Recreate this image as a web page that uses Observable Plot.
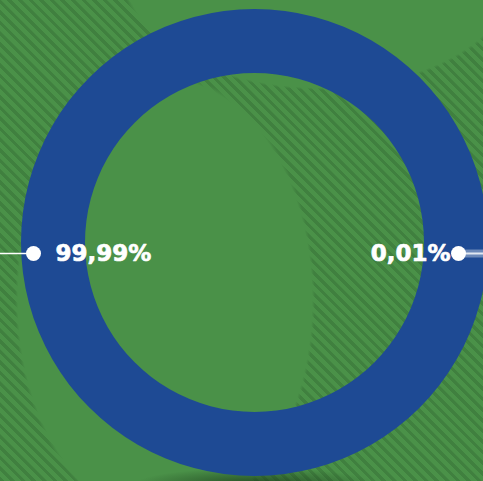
<!DOCTYPE html>
<html>
<head>
<meta charset="utf-8">
<script src="https://cdn.jsdelivr.net/npm/d3@7"></script>
<script src="https://cdn.jsdelivr.net/npm/@observablehq/plot@0.6"></script>
<style>
html, body { margin: 0; padding: 0; background: #4a9148; }
#chart { width: 483px; height: 481px; overflow: hidden; }
</style>
</head>
<body>
<div id="chart"></div>
<script>
// ---- data ----
const labels = ["99,99%", "0,01%"];
const values = [99.99, 0.01];
const colors = ["#1e4a94", "#7f9fd0"];

// ---- layout (pixel-like data units, centre of the ring at 0,0) ----
const W = 483, H = 481;
const cx = 254.5, cy = 242.5;
const rOuter = 233.5, rInner = 169.5;
const dotR = [221.5, 203.5];   // where each label's dot sits
const labelDy = -10.5;        // labels sit a little below the centre

// pie: the small slice is centred at 3 o'clock, the big one's middle at 9 o'clock
const total = d3.sum(values);
const smallAngle = values[1] / total * 2 * Math.PI;
const pie = d3.pie().sort(null)
  .startAngle(Math.PI / 2 + smallAngle / 2)
  .endAngle(Math.PI / 2 + smallAngle / 2 + 2 * Math.PI)(values);

const rows = labels.map((label, i) => {
  const a = (pie[i].startAngle + pie[i].endAngle) / 2;
  return {
    label, value: values[i], color: colors[i],
    side: Math.sin(a) < 0 ? "left" : "right",
    dx: dotR[i] * Math.sin(a),
    dy: dotR[i] * Math.cos(a) + labelDy
  };
});
const left = rows.filter(d => d.side === "left");
const right = rows.filter(d => d.side === "right");

function ring(index, scales) {
  const x0 = scales.x(0), y0 = scales.y(0);
  const k = Math.abs(scales.x(1) - scales.x(0));
  const g = d3.create("svg:g").attr("transform", `translate(${x0},${y0})`);
  const arc = d3.arc().innerRadius(rInner * k).outerRadius(rOuter * k);
  g.selectAll("path").data(pie).join("path")
    .attr("d", arc)
    .attr("fill", (d, i) => colors[i]);
  return g.node();
}

const xDomain = [-cx, W - cx];
const yDomain = [-(H - cy), cy];

const font = "'DejaVu Sans', sans-serif";

const chart = Plot.plot({
  width: W, height: H,
  margin: 0,
  x: {domain: xDomain, axis: null},
  y: {domain: yDomain, axis: null},
  style: {
    background:
      "radial-gradient(ellipse 120px 16px at 255px 484px, rgba(25,55,25,0.75), rgba(25,55,25,0) 100%)," +
      "radial-gradient(ellipse 150px 225px at 165px 300px, #4a9148 0 98%, rgba(74,145,72,0) 100%)," +
      "radial-gradient(ellipse 200px 120px at 320px -30px, #4a9148 0 98%, rgba(74,145,72,0) 100%)," +
      "repeating-linear-gradient(45deg, #40803f 0 3px, #4a9148 3.5px 7.5px)",
    overflow: "visible"
  },
  marks: [
    ring,
    // leader lines
    Plot.ruleY(left, {y: "dy", x1: xDomain[0], x2: "dx", stroke: "white", strokeWidth: 1.5}),
    Plot.ruleY(right, {y: "dy", x1: "dx", x2: xDomain[1], stroke: "white", strokeOpacity: 0.35, strokeWidth: 8}),
    Plot.ruleY(right, {y: "dy", x1: "dx", x2: xDomain[1], stroke: "white", strokeOpacity: 0.8, strokeWidth: 2}),
    // dots
    Plot.dot(rows, {x: "dx", y: "dy", r: 7.5, fill: "white", stroke: null}),
    // labels
    Plot.text(left, {x: "dx", y: "dy", text: "label", textAnchor: "start", dx: 22, fill: "white",
      stroke: "white", strokeWidth: 0.7,
      fontSize: 23, fontWeight: "bold", fontFamily: font}),
    Plot.text(right, {x: "dx", y: "dy", text: "label", textAnchor: "end", dx: -8, fill: "white",
      stroke: "white", strokeWidth: 0.7,
      fontSize: 23, fontWeight: "bold", fontFamily: font})
  ]
});
document.getElementById("chart").append(chart);
</script>
</body>
</html>
